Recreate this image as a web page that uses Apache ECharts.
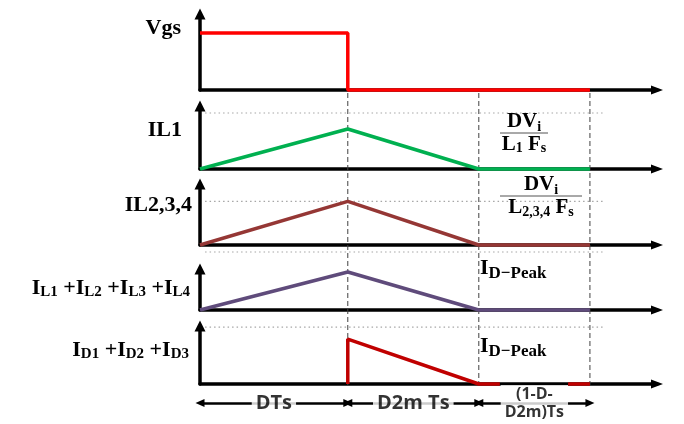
<!DOCTYPE html>
<html><head><meta charset="utf-8">
<script src="https://cdn.jsdelivr.net/npm/echarts@6/dist/echarts.min.js"></script>
<style>html,body{margin:0;padding:0;background:#fff}#c{width:684px;height:424px}</style>
</head><body><div id="c"></div>
<script>
// ---------------- data (time in units of Ts) ----------------
const eventTimes = [0, 0.379, 0.715, 1.0];           // 0, DTs, (D+D2m)Ts, Ts
const intervalLabels = ['DTs', 'D2m Ts', '(1-D-\nD2m)Ts'];
const vgsValues   = [[0, 1], [0.379, 1], [0.379, 0], [1.0, 0]];
const il1Values   = [[0, 0], [0.379, 0.714], [0.715, 0], [1.0, 0]];
const il234Values = [[0, 0], [0.379, 1], [0.715, 0], [1.0, 0]];
const ilSumValues = [[0, 0], [0.379, 0.655], [0.715, 0], [1.0, 0]];
const idSumValues = [[0.379, 0], [0.379, 0.79], [0.715, 0], [0.769, 0], [0.85, '-'], [0.944, 0], [1.0, 0]];
const refLevels = [null, 1, 1, 1, 1];                 // dotted reference levels per panel
const refSpan = [0.013, 1.038];

// ---------------- layout ----------------
const X_MAX = 1.172;
const gridTops = [14, 106, 184, 269, 326];
const gridHeights = [76, 63, 61, 41, 58];
const yMaxes = [1.333, 1.125, 1.40, 0.707, 1.02];
const colors = ['#ff0000', '#00b050', '#953735', '#5f4b7b', '#c00000'];
const panelData = [vgsValues, il1Values, il234Values, ilSumValues, idSumValues];

const grids = [], xAxes = [], yAxes = [], series = [];
for (let i = 0; i < 5; i++) {
  grids.push({left: 200, right: 27, top: gridTops[i], height: gridHeights[i]});
  xAxes.push({gridIndex: i, type: 'value', min: 0, max: X_MAX,
    axisLine: {show: true, onZero: false, symbol: ['none', 'triangle'], symbolSize: [9, 12], lineStyle: {color: '#000', width: 3.5}},
    axisTick: {show: false}, axisLabel: {show: false}, splitLine: {show: false}});
  yAxes.push({gridIndex: i, type: 'value', min: 0, max: yMaxes[i],
    axisLine: {show: true, symbol: ['none', 'triangle'], symbolSize: [11, 11], lineStyle: {color: '#000', width: 3.5}},
    axisTick: {show: false}, axisLabel: {show: false}, splitLine: {show: false}});
  if (refLevels[i] != null) {
    series.push({type: 'line', xAxisIndex: i, yAxisIndex: i, clip: false, symbol: 'none', silent: true, z: 1,
      data: [[refSpan[0], refLevels[i]], [refSpan[1], refLevels[i]]],
      lineStyle: {color: '#a6a6a6', width: 1.2, type: [1.5, 3]}});
  }
  series.push({type: 'line', xAxisIndex: i, yAxisIndex: i, symbol: 'none', z: 4, clip: false,
    data: panelData[i], connectNulls: false,
    lineStyle: {color: colors[i], width: 3.5}});
}
// overlay grid for dashed guides
grids.push({left: 200, right: 27, top: 90, height: 296});
xAxes.push({gridIndex: 5, type: 'value', min: 0, max: X_MAX, show: false});
yAxes.push({gridIndex: 5, type: 'value', min: 0, max: 1, show: false});
eventTimes.slice(1).forEach(t => {
  series.push({type: 'line', xAxisIndex: 5, yAxisIndex: 5, symbol: 'none', z: 1, silent: true,
    data: [[t, 0], [t, 1]], lineStyle: {color: '#404040', width: 1, type: [5, 3]}});
});
// bottom interval arrows
grids.push({left: 200, right: 27, top: 395, height: 16});
xAxes.push({gridIndex: 6, type: 'value', min: 0, max: X_MAX, show: false});
yAxes.push({gridIndex: 6, type: 'value', min: 0, max: 1, show: false});
const mids = intervalLabels.map((n, i) => ({name: n, value: [(eventTimes[i] + eventTimes[i + 1]) / 2, 0.5]}));
series.push({type: 'line', xAxisIndex: 6, yAxisIndex: 6, symbol: 'none', z: 1, silent: true,
  data: mids.map(m => m.value), lineStyle: {opacity: 0},
  markLine: {silent: true, z: 1, symbol: ['triangle', 'triangle'], symbolSize: [8, 9],
    label: {show: false}, lineStyle: {color: '#000', width: 2.5, type: 'solid'},
    data: intervalLabels.map((n, i) => [{coord: [eventTimes[i], 0.5]}, {coord: [eventTimes[i + 1], 0.5]}])}});
series.push({type: 'scatter', xAxisIndex: 6, yAxisIndex: 6, z: 10, symbolSize: 1, silent: true,
  itemStyle: {color: 'rgba(0,0,0,0)'},
  data: mids.map((m, i) => i < 2 ? m : Object.assign({}, m, {label: {fontSize: 16, lineHeight: 18}})),
  label: {show: true, position: 'inside', formatter: '{b}', color: '#000', fontFamily: 'Open Sans',
    fontWeight: 'bold', fontSize: 20, backgroundColor: '#fff', padding: [0, 4]}});

// ---------------- text annotations ----------------
const SERIF = '"Liberation Serif", "DejaVu Serif", serif';
function plain(txt, x, y) {
  return {type: 'text', x: x, y: y, z: 20, style: {text: txt, fontFamily: SERIF, fontWeight: 'bold', fontSize: 22, fill: '#000', align: 'right', verticalAlign: 'middle'}};
}
function subText(txt, x, y, align, mSize, sSize, sPad) {
  return {type: 'text', x: x, y: y, z: 20, style: {text: txt, fontFamily: SERIF, fontWeight: 'bold', fontSize: mSize, fill: '#000', align: align, verticalAlign: 'top',
    rich: {
      m: {fontFamily: SERIF, fontWeight: 'bold', fontSize: mSize, lineHeight: 20, verticalAlign: 'top', fill: '#000'},
      s: {fontFamily: SERIF, fontWeight: 'bold', fontSize: sSize, lineHeight: sSize, padding: [sPad, 0, 0, 0], verticalAlign: 'top', fill: '#000'}
    }}};
}
function fraction(bottomMain, bottomSub, x, y, barW, nsPadB, dPad, dsPad) {
  return {type: 'text', x: x, y: y, z: 20, style: {
    text: '{n|DV}{ns|i}\n{hr|}\n{d|' + bottomMain + '}{ds|' + bottomSub + '}{d| F}{ds|s}',
    fontFamily: SERIF, fontWeight: 'bold', fontSize: 21, fill: '#000', align: 'center', verticalAlign: 'top',
    rich: {
      n: {fontFamily: SERIF, fontWeight: 'bold', fontSize: 21, lineHeight: 22, verticalAlign: 'top', fill: '#000'},
      ns: {fontFamily: SERIF, fontWeight: 'bold', fontSize: 14, lineHeight: 14, padding: [9, 0, nsPadB, 0], verticalAlign: 'top', fill: '#000'},
      hr: {borderColor: '#8c8c8c', width: barW, borderWidth: 1, height: 0},
      d: {fontFamily: SERIF, fontWeight: 'bold', fontSize: 21, lineHeight: 22, padding: [dPad, 0, 0, 0], verticalAlign: 'top', fill: '#000'},
      ds: {fontFamily: SERIF, fontWeight: 'bold', fontSize: 14, lineHeight: 14, padding: [dsPad, 0, 0, 0], verticalAlign: 'top', fill: '#000'}
    }}};
}
const graphics = [
  plain('Vgs', 181, 28),
  plain('IL1', 182, 130),
  plain('IL2,3,4', 192, 205),
  subText('{m|I}{s|L1}{m| +I}{s|L2}{m| +I}{s|L3}{m| +I}{s|L4}', 190, 277, 'right', 22, 15, 8),
  subText('{m|I}{s|D1}{m| +I}{s|D2}{m| +I}{s|D3}', 189, 339, 'right', 22, 15, 8),
  subText('{m|I}{s|D\u2212Peak}', 480, 257, 'left', 22, 17, 8),
  subText('{m|I}{s|D\u2212Peak}', 480, 335, 'left', 22, 17, 8),
  fraction('L', '1', 524, 111, 48, 0, 1, 8),
  fraction('L', '2,3,4', 541, 174, 82, 4, 1, 9)
];

const chart = echarts.init(document.getElementById('c'), null, {renderer: 'canvas'});
chart.setOption({
  animation: false,
  backgroundColor: '#fff',
  grid: grids, xAxis: xAxes, yAxis: yAxes, series: series,
  graphic: graphics
});
</script></body></html>
